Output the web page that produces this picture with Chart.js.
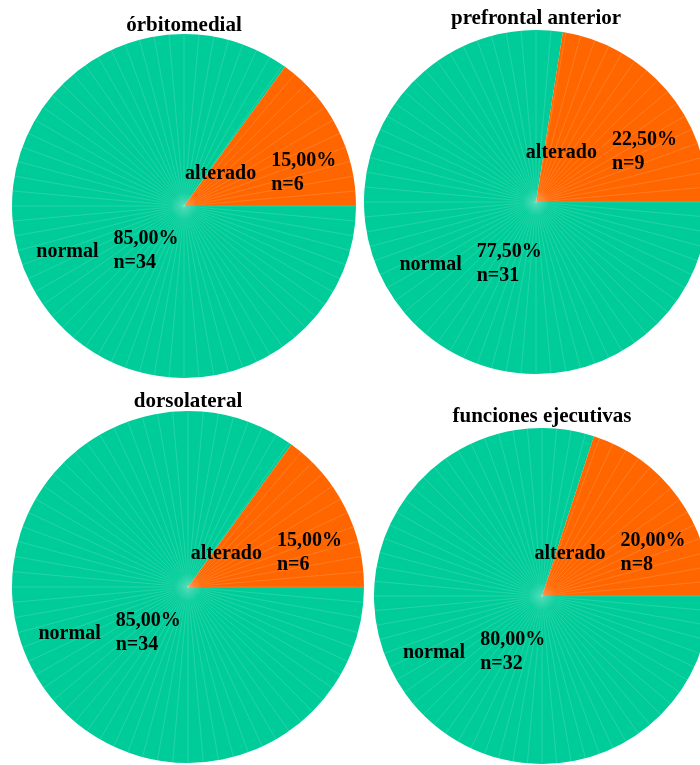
<!DOCTYPE html>
<html>
<head>
<meta charset="utf-8">
<script src="https://cdn.jsdelivr.net/npm/chart.js@4/dist/chart.umd.min.js"></script>
<style>
  html, body { margin: 0; padding: 0; background: #ffffff; overflow: hidden; width: 700px; height: 765px; }
  .panel { position: absolute; }
  .panel canvas { display: block; }
</style>
</head>
<body>
<div id="wrap"></div>
<script>
// Survey results per executive-function area
const panelTitles = ['órbitomedial', 'prefrontal anterior', 'dorsolateral', 'funciones ejecutivas'];
const categories = ['normal', 'alterado'];
const normalCounts = [34, 31, 34, 32];
const alteradoCounts = [6, 9, 6, 8];
const sliceColors = ['#00CC99', '#FF6600'];

// Panel placement: pie centre, radius and title line
const panelCx = [184, 536, 188, 542];
const panelCy = [206, 202, 587, 596];
const panelR = [172, 172, 176, 168];
const panelTitleY = [24, 17, 400, 415];

const FONT = "'Liberation Serif', 'Times New Roman', serif";
const TITLE_SIZE = 21;
const TITLE_LH = 0.6;

function pct(v, total) {
  return (v / total * 100).toFixed(2).replace('.', ',') + '%';
}

// Faint radial shading lines every 5 degrees across the pie
const radialLines = {
  id: 'radialLines',
  afterDatasetsDraw(chart) {
    const meta = chart.getDatasetMeta(0);
    const ctx = chart.ctx;
    meta.data.forEach((arc) => {
      const { x, y, startAngle, endAngle, outerRadius } = arc.getProps(['x', 'y', 'startAngle', 'endAngle', 'outerRadius'], true);
      ctx.save();
      ctx.beginPath();
      ctx.moveTo(x, y);
      ctx.arc(x, y, outerRadius, startAngle, endAngle);
      ctx.closePath();
      ctx.clip();
      const fade = ctx.createRadialGradient(x, y, 0, x, y, outerRadius);
      fade.addColorStop(0, 'rgba(255,255,255,0.02)');
      fade.addColorStop(0.12, 'rgba(255,255,255,0.2)');
      fade.addColorStop(1, 'rgba(255,255,255,0.2)');
      ctx.strokeStyle = fade;
      ctx.lineWidth = 0.7;
      const step = Math.PI / 36;
      for (let a = 0; a < Math.PI * 2 - 1e-6; a += step) {
        ctx.beginPath();
        ctx.moveTo(x, y);
        ctx.lineTo(x + Math.cos(a) * outerRadius, y + Math.sin(a) * outerRadius);
        ctx.stroke();
      }
      ctx.restore();
    });
    // soft light spot at the centre
    const a0 = meta.data[0];
    if (a0) {
      const g = ctx.createRadialGradient(a0.x, a0.y, 0, a0.x, a0.y, 14);
      g.addColorStop(0, 'rgba(255,255,255,0.25)');
      g.addColorStop(1, 'rgba(255,255,255,0)');
      ctx.save();
      ctx.fillStyle = g;
      ctx.beginPath();
      ctx.arc(a0.x, a0.y, 14, 0, Math.PI * 2);
      ctx.fill();
      ctx.restore();
    }
  }
};

// Category name with percentage and count placed beside it, at half radius
const sliceLabels = {
  id: 'sliceLabels',
  afterDatasetsDraw(chart) {
    const meta = chart.getDatasetMeta(0);
    const ds = chart.data.datasets[0];
    const total = ds.data.reduce((s, v) => s + v, 0);
    const ctx = chart.ctx;
    ctx.save();
    ctx.font = 'bold 20px ' + FONT;
    ctx.fillStyle = '#000000';
    ctx.textBaseline = 'middle';
    ctx.textAlign = 'left';
    meta.data.forEach((arc, i) => {
      const { x, y, startAngle, endAngle, outerRadius } = arc.getProps(['x', 'y', 'startAngle', 'endAngle', 'outerRadius'], true);
      const mid = (startAngle + endAngle) / 2;
      const px = x + Math.cos(mid) * outerRadius * 0.5;
      const py = y + Math.sin(mid) * outerRadius * 0.5 + 6;
      const name = chart.data.labels[i];
      const lines = [pct(ds.data[i], total), 'n=' + ds.data[i]];
      const wName = ctx.measureText(name).width;
      const wVal = Math.max(...lines.map(l => ctx.measureText(l).width));
      const gap = 15;
      const left = px - (wName + gap + wVal) / 2;
      ctx.fillText(name, left, py + 1);
      ctx.fillText(lines[0], left + wName + gap, py - 12);
      ctx.fillText(lines[1], left + wName + gap, py + 12);
    });
    ctx.restore();
  }
};

const wrap = document.getElementById('wrap');
panelTitles.forEach((title, i) => {
  const r = panelR[i];
  const boxH = TITLE_SIZE * TITLE_LH;
  const top = panelTitleY[i] - 16;
  const padTop = panelTitleY[i] + 2 - boxH / 2 - top;
  const padBottom = Math.max(0, (panelCy[i] - r) - top - padTop - boxH);
  const height = panelCy[i] + r - top;
  const width = 2 * r;
  const div = document.createElement('div');
  div.className = 'panel';
  div.style.left = (panelCx[i] - r) + 'px';
  div.style.top = top + 'px';
  div.style.width = width + 'px';
  div.style.height = height + 'px';
  const canvas = document.createElement('canvas');
  div.appendChild(canvas);
  wrap.appendChild(div);

  new Chart(canvas, {
    type: 'pie',
    data: {
      labels: categories,
      datasets: [{
        data: [normalCounts[i], alteradoCounts[i]],
        backgroundColor: sliceColors,
        borderWidth: 0
      }]
    },
    options: {
      responsive: true,
      maintainAspectRatio: false,
      animation: false,
      rotation: 90,
      layout: { padding: 0 },
      plugins: {
        legend: { display: false },
        tooltip: { enabled: false },
        title: {
          display: true,
          text: title,
          color: '#000000',
          font: { family: FONT, size: TITLE_SIZE, weight: 'bold', lineHeight: TITLE_LH },
          padding: { top: padTop, bottom: padBottom }
        }
      }
    },
    plugins: [radialLines, sliceLabels]
  });
});
</script>
</body>
</html>
